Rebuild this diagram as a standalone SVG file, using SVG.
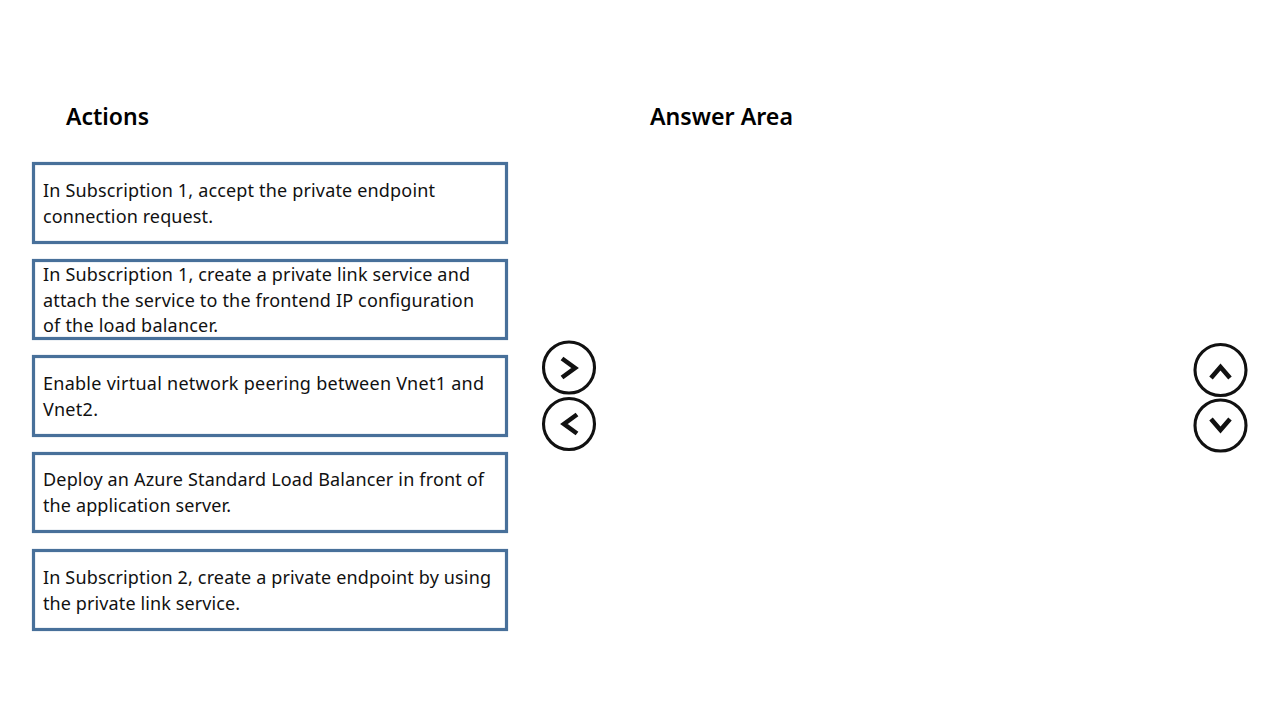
<svg xmlns="http://www.w3.org/2000/svg" width="1280" height="720" viewBox="0 0 1280 720">
<style>
.h{font-family:"Noto Sans","Open Sans","Liberation Sans",sans-serif;font-size:24px;font-weight:600;fill:#000}
.t{font-family:"Noto Sans","Open Sans","Liberation Sans",sans-serif;font-size:18px;fill:#111}
.b{fill:#fff;stroke:#48709a;stroke-width:3.2}
.c{fill:#fff;stroke:#111;stroke-width:3.1}
.g{fill:none;stroke:#111;stroke-width:4.6;stroke-linecap:butt;stroke-linejoin:miter}
</style>
<rect width="1280" height="720" fill="#fff"/>
<text class="h" x="66" y="125" textLength="83" lengthAdjust="spacingAndGlyphs">Actions</text>
<text class="h" x="650" y="125" textLength="143" lengthAdjust="spacingAndGlyphs">Answer Area</text>
<g id="action1"><rect class="b" x="33.5" y="163.5" width="473" height="79"/>
<text class="t" x="43" y="197" textLength="392" lengthAdjust="spacing">In Subscription 1, accept the private endpoint</text>
<text class="t" x="43" y="223" textLength="170" lengthAdjust="spacing">connection request.</text></g>
<g id="action2"><rect class="b" x="33.5" y="260.5" width="473" height="78"/>
<text class="t" x="43" y="281" textLength="427" lengthAdjust="spacing">In Subscription 1, create a private link service and</text>
<text class="t" x="43" y="307" textLength="431" lengthAdjust="spacing">attach the service to the frontend IP configuration</text>
<text class="t" x="43" y="332" textLength="175" lengthAdjust="spacing">of the load balancer.</text></g>
<g id="action3"><rect class="b" x="33.5" y="356.5" width="473" height="79"/>
<text class="t" x="43" y="390" textLength="441" lengthAdjust="spacing">Enable virtual network peering between Vnet1 and</text>
<text class="t" x="43" y="416" textLength="55" lengthAdjust="spacing">Vnet2.</text></g>
<g id="action4"><rect class="b" x="33.5" y="453.5" width="473" height="78"/>
<text class="t" x="43" y="486" textLength="441" lengthAdjust="spacing">Deploy an Azure Standard Load Balancer in front of</text>
<text class="t" x="43" y="512" textLength="188" lengthAdjust="spacing">the application server.</text></g>
<g id="action5"><rect class="b" x="33.5" y="550.5" width="473" height="79"/>
<text class="t" x="43" y="584" textLength="448" lengthAdjust="spacing">In Subscription 2, create a private endpoint by using</text>
<text class="t" x="43" y="610" textLength="197" lengthAdjust="spacing">the private link service.</text></g>
<g id="btn-right"><circle class="c" cx="569" cy="367.500" r="25.500"/><path class="g" d="M562 358.500L575 368L562 377.500"/></g>
<g id="btn-left"><circle class="c" cx="569" cy="424" r="25.500"/><path class="g" d="M577 414.500L564 424L577 433.500"/></g>
<g id="btn-up"><circle class="c" cx="1220.500" cy="370" r="25.500"/><path class="g" d="M1211 378L1220.500 367L1230 378"/></g>
<g id="btn-down"><circle class="c" cx="1220.500" cy="425.500" r="25.500"/><path class="g" d="M1211 419L1220.500 430L1230 419"/></g>
</svg>
